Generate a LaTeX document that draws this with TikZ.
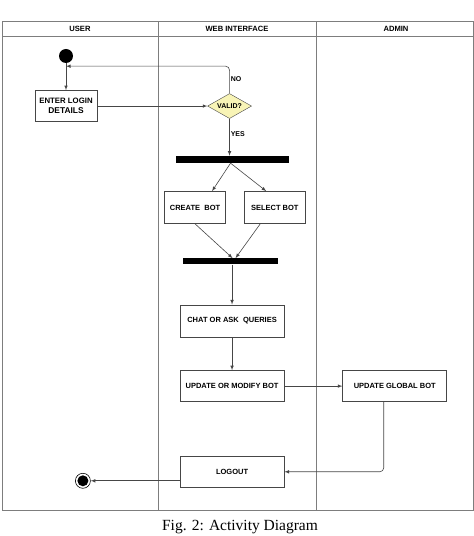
\documentclass[tikz,border=0pt]{standalone}
\usepackage{fontspec}
\setmainfont{Liberation Serif}
\newfontfamily\arialfont{Liberation Sans}
\usetikzlibrary{positioning,shapes.geometric}
\definecolor{framegray}{RGB}{125,125,125}
\definecolor{linegray}{RGB}{70,70,70}
\definecolor{validfill}{RGB}{248,244,182}
\tikzset{block/.style={draw=linegray,line width=0.7pt,minimum width=104pt,minimum height=31pt,inner sep=1pt,align=center,font=\arialfont\bfseries\fontsize{7.5}{8.5}\selectfont},
         line/.style={draw=linegray,line width=0.6pt,-latex},
         bar/.style={fill=black,draw=none,minimum height=7pt,inner sep=0pt},
         lbl/.style={font=\arialfont\bfseries\fontsize{7}{8}\selectfont,inner sep=1pt},
         lanehead/.style={font=\arialfont\bfseries\fontsize{7.6}{9}\selectfont}
}

\begin{document}
\begin{tikzpicture}[x=1pt,y=1pt]
\useasboundingbox (0,0) rectangle (474,536);

% swimlanes
\draw[framegray,line width=1pt] (2,25) rectangle (473,514);
\draw[framegray,line width=0.8pt] (2,500) -- (473,500);
\draw[framegray,line width=0.8pt] (158,25) -- (158,514);
\draw[framegray,line width=0.8pt] (316,25) -- (316,514);
\node[lanehead] (user) at (80,507) {USER};
\node[lanehead] (web) at (237,507) {WEB INTERFACE};
\node[lanehead] (admin) at (396,507) {ADMIN};

\node[circle,fill=black,minimum size=14pt,inner sep=0pt] (start) at (66,480) {};
\node[block,minimum width=62pt,below=27pt of start] (login) {{\fontsize{7.8}{10}\selectfont ENTER LOGIN}\\[2pt]{\fontsize{8.4}{10}\selectfont DETAILS}};
\node[diamond,aspect=1.8,draw=linegray,fill=validfill,minimum width=44pt,minimum height=25pt,inner sep=0.5pt,font=\arialfont\bfseries\fontsize{7}{8}\selectfont,right=110pt of login] (valid) {VALID?};
\node[bar,minimum width=113pt,below=37pt of valid,xshift=2.5pt] (fork) {};
\node[block,minimum width=61pt,minimum height=32pt,below=28pt of fork,xshift=-37pt] (create) {CREATE\ \ BOT};
\node[block,minimum width=61pt,minimum height=32pt,right=18pt of create] (select) {SELECT BOT};
\node[bar,minimum width=95pt,minimum height=6pt,below=95pt of fork,xshift=-2pt] (join) {};
\node[block,minimum height=32pt,below=40pt of join,xshift=2pt] (chat) {CHAT OR ASK\ \ QUERIES};
\node[block,below=33pt of chat] (update) {UPDATE OR MODIFY BOT};
\node[block,right=58pt of update] (global) {UPDATE GLOBAL BOT};
\node[block,below=54pt of update] (logout) {LOGOUT};
\node[circle,draw=black,line width=0.6pt,minimum size=15pt,inner sep=0pt,left=89pt of logout,yshift=-9pt] (end) {};
\node[circle,fill=black,minimum size=11pt,inner sep=0pt] (endfill) at (end) {};

\node[lbl,anchor=west] (no) at ([yshift=14pt]valid.north) {NO};
\node[lbl,anchor=west] (yes) at ([yshift=-15pt]valid.south) {YES};
\node[font=\fontsize{15.5}{17}\selectfont] (caption) at (240,9) {Fig. 2: Activity Diagram};

\coordinate (back) at ([yshift=-3pt]start.south);
\draw[line] (start) -- (login);
\draw[line] (login) -- (valid);
\draw[line,rounded corners=4pt] (valid.north) |- (back);
\draw[line] (valid.south) -- (valid.south |- fork.north);
\draw[line] ([xshift=-1.5pt]fork.south) -- ([xshift=17pt]create.north);
\draw[line] ([xshift=-1.5pt]fork.south) -- ([xshift=-8.5pt]select.north);
\draw[line] (create.south) -- ([xshift=2.5pt]join.north);
\draw[line] ([xshift=-14.5pt]select.south) -- ([xshift=5.5pt]join.north);
\draw[line] (join.south -| chat.north) -- (chat.north);
\draw[line] (chat) -- (update);
\draw[line] (update) -- (global);
\draw[line,rounded corners=4pt] ([xshift=-11pt]global.south) |- (logout.east);
\draw[line] ([yshift=-9pt]logout.west) -- (end);

\end{tikzpicture}
\end{document}
